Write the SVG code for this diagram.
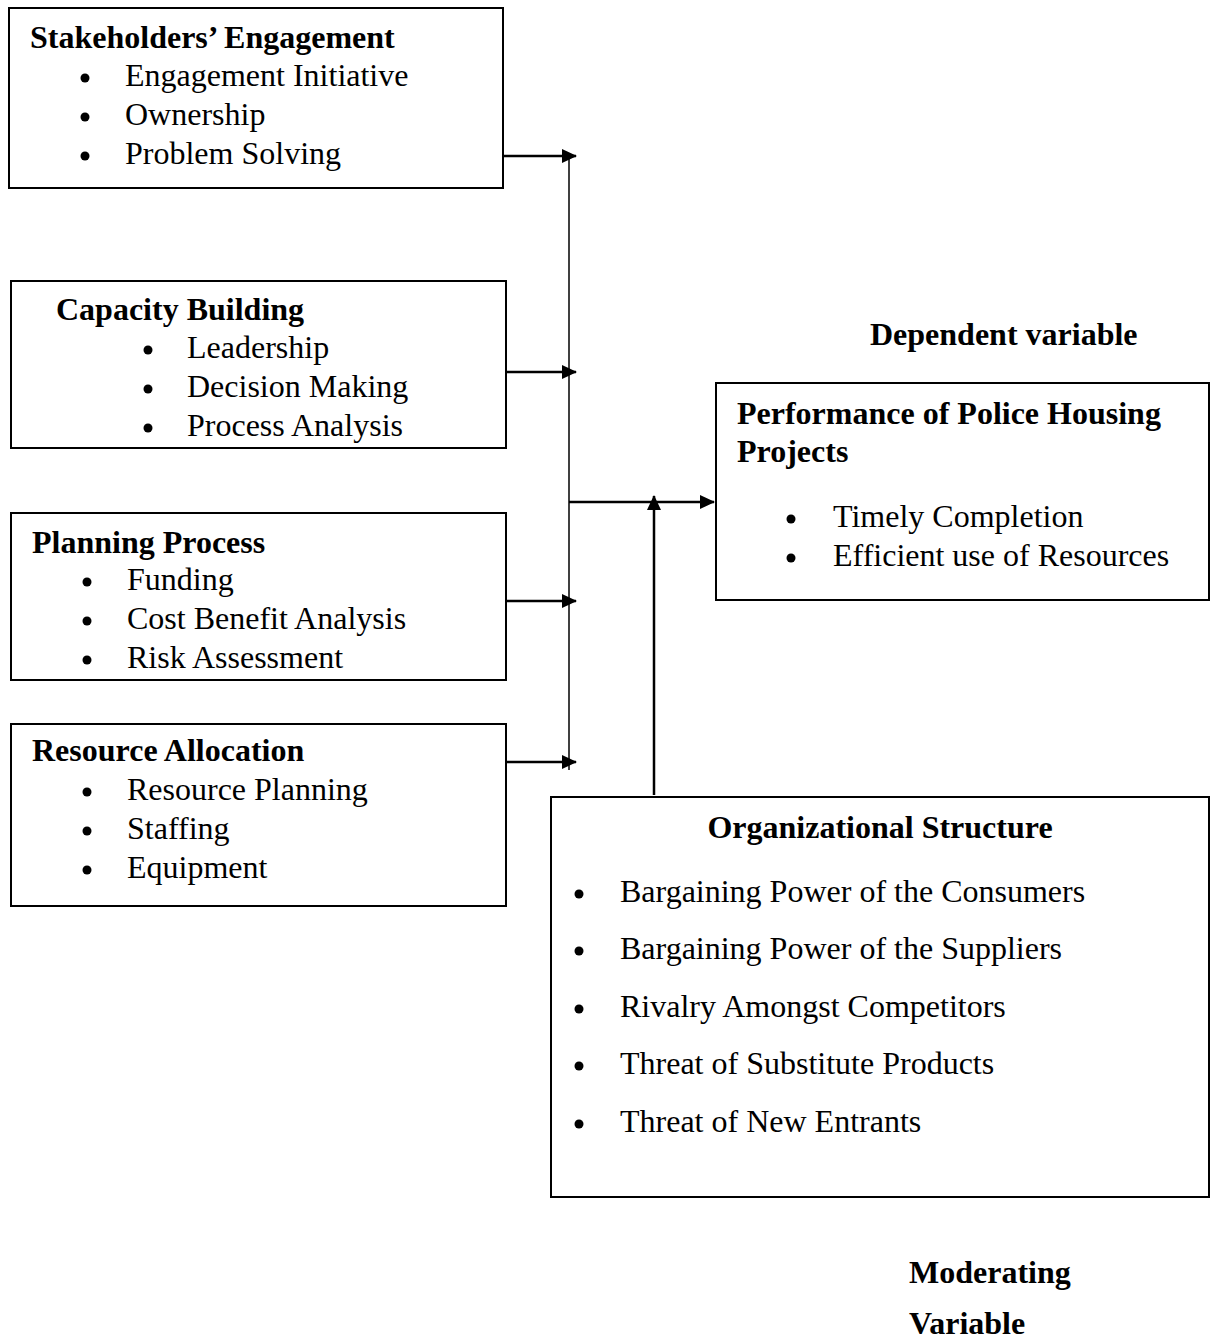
<svg xmlns="http://www.w3.org/2000/svg" width="1210" height="1342" viewBox="0 0 1210 1342">
<style>
text{font-family:"Liberation Serif","Times New Roman",serif;font-size:32px;fill:#000}
.b{font-weight:bold;font-size:32px}
.box{fill:#fff;stroke:#000;stroke-width:2}
.ln{stroke:#000;stroke-width:2.5;fill:none}
.th{stroke:#000;stroke-width:1.5;fill:none}
circle{fill:#000}
</style>
<defs>
<marker id="ah" markerWidth="15" markerHeight="14" refX="14" refY="7" orient="auto" markerUnits="userSpaceOnUse">
<path d="M0,0 L15,7 L0,14 Z" fill="#000"/>
</marker>
<clipPath id="c2"><rect x="11" y="281" width="495" height="167"/></clipPath>
</defs>
<g id="connectors">
<line class="th" x1="569" y1="155" x2="569" y2="770"/>
<line class="ln" x1="503" y1="156" x2="576" y2="156" marker-end="url(#ah)"/>
<line class="ln" x1="506" y1="372" x2="576" y2="372" marker-end="url(#ah)"/>
<line class="ln" x1="506" y1="601" x2="576" y2="601" marker-end="url(#ah)"/>
<line class="ln" x1="506" y1="762" x2="576" y2="762" marker-end="url(#ah)"/>
<line class="ln" x1="569" y1="502" x2="714" y2="502" marker-end="url(#ah)"/>
<line class="ln" x1="654" y1="795" x2="654" y2="496" marker-end="url(#ah)"/>
</g>
<g id="stakeholders">
<rect class="box" x="9" y="8" width="494" height="180"/>
<text class="b" x="30" y="48">Stakeholders’ Engagement</text>
<circle cx="85" cy="78" r="4.5"/><text x="125" y="86">Engagement Initiative</text>
<circle cx="85" cy="117" r="4.5"/><text x="125" y="125">Ownership</text>
<circle cx="85" cy="156" r="4.5"/><text x="125" y="164">Problem Solving</text>
</g>
<g id="capacity">
<rect class="box" x="11" y="281" width="495" height="167"/>
<g clip-path="url(#c2)">
<text class="b" x="56" y="320">Capacity Building</text>
<circle cx="148" cy="350" r="4.5"/><text x="187" y="358">Leadership</text>
<circle cx="148" cy="389" r="4.5"/><text x="187" y="397">Decision Making</text>
<circle cx="148" cy="428" r="4.5"/><text x="187" y="436">Process Analysis</text>
</g>
</g>
<g id="planning">
<rect class="box" x="11" y="513" width="495" height="167"/>
<text class="b" x="32" y="553">Planning Process</text>
<circle cx="87" cy="582" r="4.5"/><text x="127" y="590">Funding</text>
<circle cx="87" cy="621" r="4.5"/><text x="127" y="629">Cost Benefit Analysis</text>
<circle cx="87" cy="660" r="4.5"/><text x="127" y="668">Risk Assessment</text>
</g>
<g id="resource">
<rect class="box" x="11" y="724" width="495" height="182"/>
<text class="b" x="32" y="761">Resource Allocation</text>
<circle cx="87" cy="792" r="4.5"/><text x="127" y="800">Resource Planning</text>
<circle cx="87" cy="831" r="4.5"/><text x="127" y="839">Staffing</text>
<circle cx="87" cy="870" r="4.5"/><text x="127" y="878">Equipment</text>
</g>
<g id="dependent-label">
<text class="b" x="870" y="345">Dependent variable</text>
</g>
<g id="performance">
<rect class="box" x="716" y="383" width="493" height="217"/>
<text class="b" x="737" y="424">Performance of Police Housing</text>
<text class="b" x="737" y="462">Projects</text>
<circle cx="791" cy="519" r="4.5"/><text x="833" y="527">Timely Completion</text>
<circle cx="791" cy="558" r="4.5"/><text x="833" y="566">Efficient use of Resources</text>
</g>
<g id="organizational">
<rect class="box" x="551" y="797" width="658" height="400"/>
<text class="b" x="880" y="838" text-anchor="middle">Organizational Structure</text>
<circle cx="579" cy="894" r="4.5"/><text x="620" y="902">Bargaining Power of the Consumers</text>
<circle cx="579" cy="951" r="4.5"/><text x="620" y="959">Bargaining Power of the Suppliers</text>
<circle cx="579" cy="1009" r="4.5"/><text x="620" y="1017">Rivalry Amongst Competitors</text>
<circle cx="579" cy="1066" r="4.5"/><text x="620" y="1074">Threat of Substitute Products</text>
<circle cx="579" cy="1124" r="4.5"/><text x="620" y="1132">Threat of New Entrants</text>
</g>
<g id="moderating-label">
<text class="b" x="909" y="1283">Moderating</text>
<text class="b" x="909" y="1334">Variable</text>
</g>
</svg>
